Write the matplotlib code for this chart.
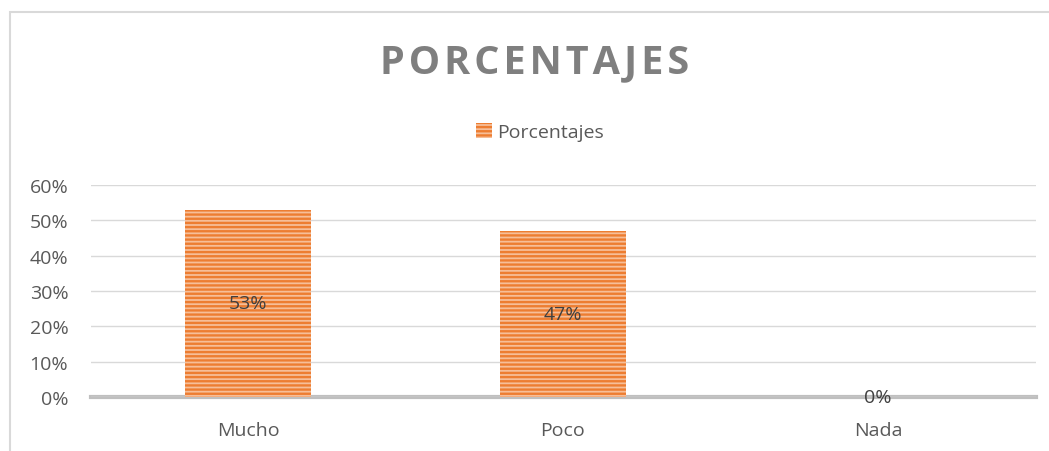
import matplotlib.pyplot as plt
from matplotlib.patches import Rectangle, Patch

plt.rcParams['font.family'] = ['Open Sans', 'DejaVu Sans']
plt.rcParams['hatch.color'] = '#ED7D31'
plt.rcParams['hatch.linewidth'] = 1.7

categorias = ['Mucho', 'Poco', 'Nada']
porcentajes = [0.53, 0.47, 0.0]
etiquetas = ['53%', '47%', '0%']
yticks = [0, 0.1, 0.2, 0.3, 0.4, 0.5, 0.6]
ytick_labels = ['0%', '10%', '20%', '30%', '40%', '50%', '60%']

fig = plt.figure(figsize=(10.49, 4.52), dpi=100)
ax = fig.add_axes([90.5 / 1049, 1 - 398 / 452, 945 / 1049, 212 / 452])

x = range(len(categorias))
ax.bar(x, porcentajes, width=0.4, color='#F6BE98', edgecolor='#ED7D31',
       linewidth=0, hatch='----', zorder=2)

for i, v in enumerate(porcentajes):
    ypos = v / 2 if v > 0 else 0
    ax.text(i, ypos, etiquetas[i], ha='center', va='center', fontsize=14,
            color='#404040', zorder=3)

ax.set_xlim(-0.5, 2.5)
ax.set_ylim(0, 0.6)
ax.set_yticks(yticks)
ax.set_yticklabels(ytick_labels, fontsize=14, color='#595959')
ax.set_xticks(list(x))
ax.set_xticklabels(categorias, fontsize=14, color='#595959')
ax.tick_params(length=0)
ax.tick_params(axis='y', pad=16)
ax.tick_params(axis='x', pad=17)
ax.grid(axis='y', color='#D9D9D9', linewidth=1, zorder=0)
for s in ['top', 'right', 'left']:
    ax.spines[s].set_visible(False)
ax.spines['bottom'].set_color('#BFBFBF')
ax.spines['bottom'].set_linewidth(3)
ax.spines['bottom'].set_zorder(1)

fig.text(0.510, 1 - 63 / 452, '\u200a'.join('PORCENTAJES'), ha='center',
         va='center', fontsize=28.5, fontweight='bold', color='#7F7F7F')

handle = Patch(facecolor='#F6BE98', edgecolor='#ED7D31', linewidth=0, hatch='----')
fig.legend([handle], ['Porcentajes'], loc='center', bbox_to_anchor=(0.515, 1 - 133 / 452),
           frameon=False, fontsize=14, labelcolor='#595959', handlelength=0.8,
           handleheight=0.8, handletextpad=0.3)

border = Rectangle((9.5 / 1049, -0.1), 1.2, 1 - 13 / 452 + 0.1, transform=fig.transFigure,
                   fill=False, edgecolor='#D9D9D9', linewidth=1.5)
fig.patches.append(border)

fig.savefig('out.png', dpi=100)
